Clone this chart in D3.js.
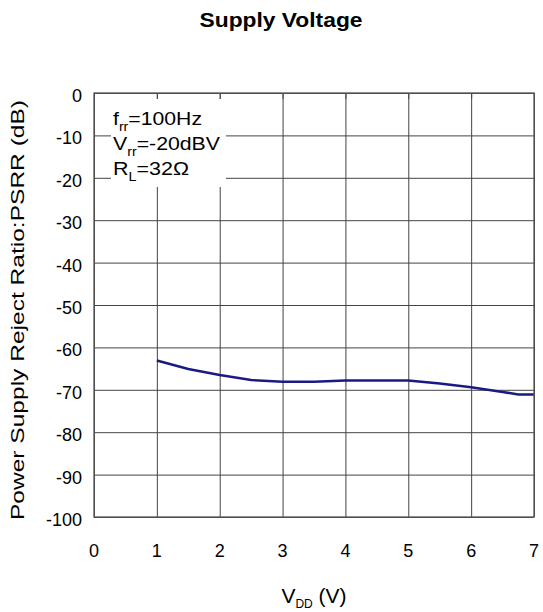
<!DOCTYPE html>
<html>
<head>
<meta charset="utf-8">
<script src="https://cdn.jsdelivr.net/npm/d3@7"></script>
<style>
  body { margin: 0; background: #fff; }
  text { font-family: Arial, "Liberation Sans", sans-serif; fill: #000; }
</style>
</head>
<body>
<svg id="chart" width="543" height="612"></svg>
<script>
// data
const vdd = [1, 1.5, 2, 2.5, 3, 3.5, 4, 4.5, 5, 5.5, 6, 6.5, 6.75, 7];
const psrr = [-63.1, -65.1, -66.5, -67.7, -68.1, -68.1, -67.8, -67.8, -67.8, -68.5, -69.4, -70.5, -71.1, -71.1];
const xTicks = [0, 1, 2, 3, 4, 5, 6, 7];
const yTicks = [0, -10, -20, -30, -40, -50, -60, -70, -80, -90, -100];

const margin = { top: 93, right: 9, bottom: 95, left: 94 };
const W = 543, H = 612;
const width = W - margin.left - margin.right;
const height = H - margin.top - margin.bottom;

const svg = d3.select("#chart");
const g = svg.append("g").attr("transform", `translate(${margin.left},${margin.top})`);

const x = d3.scaleLinear().domain([0, 7]).range([0, width]);
const y = d3.scaleLinear().domain([-100, 0]).range([height, 0]);

// grid
g.append("g")
  .attr("transform", `translate(0,${height})`)
  .call(d3.axisBottom(x).tickValues(xTicks).tickSize(-height).tickFormat(""))
  .call(s => s.select(".domain").remove())
  .selectAll("line").attr("stroke", "#444").attr("stroke-width", 1);
g.append("g")
  .call(d3.axisLeft(y).tickValues(yTicks).tickSize(-width).tickFormat(""))
  .call(s => s.select(".domain").remove())
  .selectAll("line").attr("stroke", "#444").attr("stroke-width", 1);

// legend background
g.append("rect")
  .attr("x", 17).attr("y", 6)
  .attr("width", 115).attr("height", 88)
  .attr("fill", "#fff");

// inner ticks on top
g.append("g")
  .call(d3.axisTop(x).tickValues(xTicks).tickSize(-6).tickFormat(""))
  .call(s => s.select(".domain").remove())
  .selectAll("line").attr("stroke", "#444");

// curve
const line = d3.line().x((d, i) => x(vdd[i])).y(d => y(d));
g.append("path")
  .datum(psrr)
  .attr("d", line)
  .attr("fill", "none")
  .attr("stroke", "#1a1a84")
  .attr("stroke-width", 2.5);

// frame
g.append("rect")
  .attr("width", width).attr("height", height)
  .attr("fill", "none").attr("stroke", "#555").attr("stroke-width", 1.3);

// tick labels
g.selectAll(".ylab").data(yTicks).enter().append("text")
  .attr("x", -12).attr("y", d => y(d) + 9)
  .attr("text-anchor", "end").attr("font-size", 18)
  .text(d => d);
g.selectAll(".xlab").data(xTicks).enter().append("text")
  .attr("x", d => x(d)).attr("y", height + 40)
  .attr("text-anchor", "middle").attr("font-size", 18)
  .text(d => d);

// legend text
const legend = [
  { main: "f", sub: "rr", rest: "=100Hz", len: 89 },
  { main: "V", sub: "rr", rest: "=-20dBV", len: 107 },
  { main: "R", sub: "L", rest: "=32\u03A9", len: 76 }
];
legend.forEach((l, i) => {
  const t = g.append("text").attr("x", 19).attr("y", 32 + i * 25).attr("font-size", 18)
    .attr("textLength", l.len).attr("lengthAdjust", "spacingAndGlyphs");
  t.append("tspan").text(l.main);
  t.append("tspan").attr("font-size", 12).attr("dy", 6).text(l.sub);
  t.append("tspan").attr("dy", -6).text(l.rest);
});

// title
svg.append("text")
  .attr("x", 281).attr("y", 27)
  .attr("text-anchor", "middle").attr("font-size", 20).attr("font-weight", "bold")
  .attr("textLength", 163).attr("lengthAdjust", "spacingAndGlyphs")
  .text("Supply Voltage");

// y axis title
svg.append("text")
  .attr("transform", `translate(24,${margin.top + height / 2 + 5}) rotate(-90)`)
  .attr("text-anchor", "middle").attr("font-size", 19)
  .attr("textLength", 420).attr("lengthAdjust", "spacingAndGlyphs")
  .text("Power Supply Reject Ratio:PSRR (dB)");

// x axis title
const xt = svg.append("text")
  .attr("x", 314).attr("y", 603)
  .attr("text-anchor", "middle").attr("font-size", 21);
xt.append("tspan").text("V");
xt.append("tspan").attr("font-size", 12).attr("dy", 5).text("DD");
xt.append("tspan").attr("dy", -5).text(" (V)");
</script>
</body>
</html>
